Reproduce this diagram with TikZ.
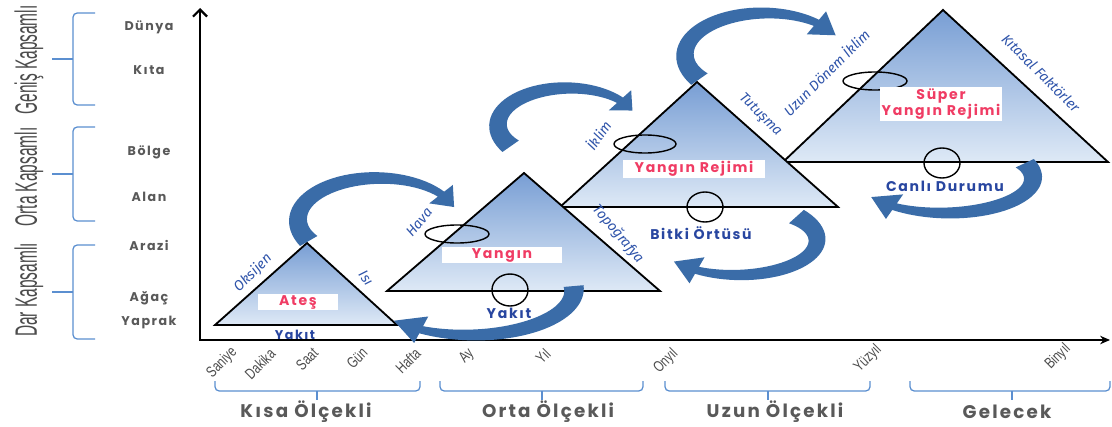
\documentclass[tikz,border=0pt]{standalone}
\usepackage{fontspec}
\setmainfont{Poppins}
\newfontfamily\gothic[LetterSpace=12]{Poppins}
\newfontfamily\narrowfont[FakeStretch=0.5]{Liberation Sans}
\newfontfamily\tickfont[FakeStretch=0.75]{Liberation Sans}
\newfontfamily\handfont{Fira Sans}
\usetikzlibrary{arrows.meta, positioning, calc}

\definecolor{txtgray}{RGB}{89,89,89}
\definecolor{brkblue}{RGB}{91,143,208}
\definecolor{lblblue}{RGB}{47,84,170}
\definecolor{navy}{RGB}{40,70,160}
\definecolor{pinkred}{RGB}{240,60,100}
\definecolor{bandblue}{RGB}{58,108,168}
\definecolor{triTop}{RGB}{120,158,212}
\definecolor{triBot}{RGB}{222,233,246}

% curved block arrow: cx, cy, rx, ry, tail angle, neck angle, tip angle
\newcommand{\swoosh}[7]{%
  \fill[arrowband]
    plot[domain=#5:#6, samples=40] ({#1+(#3+10-6*(\x-(#5))/((#6)-(#5)))*cos(\x)}, {#2+(#4+10-6*(\x-(#5))/((#6)-(#5)))*sin(\x)})
    -- ({#1+(#3+15)*cos(#6)}, {#2+(#4+15)*sin(#6)})
    -- ({#1+#3*cos(#7)}, {#2+#4*sin(#7)})
    -- ({#1+(#3-15)*cos(#6)}, {#2+(#4-15)*sin(#6)})
    -- plot[domain=#6:#5, samples=40] ({#1+(#3-10+6*(\x-(#5))/((#6)-(#5)))*cos(\x)}, {#2+(#4-10+6*(\x-(#5))/((#6)-(#5)))*sin(\x)})
    -- cycle;}

\begin{document}
\begin{tikzpicture}[
        x=0.025cm, y=-0.025cm,
        axis/.style={line width=1.6pt, {Straight Barb[length=5pt, width=10pt]}-{Stealth[length=7pt, width=6pt]}},
        brk/.style={draw=brkblue, line width=0.9pt, rounded corners=3pt},
        tri/.style={draw=black, line width=1.3pt, top color=triTop, bottom color=triBot},
        ring/.style={draw=black, line width=1pt},
        arrowband/.style={fill=bandblue},
        scalelabel/.style={text=txtgray, font=\gothic\bfseries\fontsize{9}{10}\selectfont},
        side/.style={text=txtgray!85!black, font=\narrowfont\fontsize{22}{24}\selectfont, rotate=90},
        tick/.style={text=txtgray!85!black, font=\tickfont\fontsize{11}{12}\selectfont, rotate=45},
        group/.style={text=txtgray, font=\gothic\bfseries\fontsize{13}{15}\selectfont},
        factor/.style={text=lblblue, font=\handfont\itshape\fontsize{10}{12}\selectfont},
        base/.style={text=navy, font=\gothic\bfseries\fontsize{10}{12}\selectfont},
        title/.style={fill=white, text=pinkred, font=\gothic\bfseries\fontsize{10}{12}\selectfont, inner sep=1pt}
    ]
        \path[use as bounding box, fill=white] (0,0) rectangle (1112,427);

        % Axes
        \coordinate (origin) at (200,340);
        \coordinate (ytop) at (200,8);
        \coordinate (xend) at (1110,340);
        \draw[axis] (ytop) -- (origin) -- (xend);

        % Spatial scale
        \node[side] (genis) at (29,60) {Geniş Kapsamlı};
        \node[side] (ortak) at (29,177) {Orta Kapsamlı};
        \node[side] (dark) at (29,290) {Dar Kapsamlı};
        \draw[brk] (95,13) -- (73,13) -- (73,105) -- (95,105);
        \draw[brk] (73,59) -- (52,59);
        \draw[brk] (95,127) -- (73,127) -- (73,221) -- (95,221);
        \draw[brk] (73,174) -- (52,174);
        \draw[brk] (95,245) -- (73,245) -- (73,339) -- (95,339);
        \draw[brk] (73,292) -- (52,292);

        \node[scalelabel] (dunya) at (149,27) {Dünya};
        \node[scalelabel] (kita) at (149,70) {Kıta};
        \node[scalelabel] (bolge) at (149,152) {Bölge};
        \node[scalelabel] (alan) at (149,197) {Alan};
        \node[scalelabel] (arazi) at (149,245) {Arazi};
        \node[scalelabel] (agac) at (149,298) {Ağaç};
        \node[scalelabel] (yaprak) at (149,322) {Yaprak};

        % Time scale
        \node[tick] (saniye) at (222,363) {Saniye};
        \node[tick] (dakika) at (260,364) {Dakika};
        \node[tick] (saat) at (307,359) {Saat};
        \node[tick] (gun) at (357,358) {Gün};
        \node[tick] (hafta) at (408,361) {Hafta};
        \node[tick] (ay) at (467,356) {Ay};
        \node[tick] (yil) at (543,356) {Yıl};
        \node[tick] (onyil) at (666,361) {Onyıl};
        \node[tick] (yuzyil) at (868,359) {Yüzyıl};
        \node[tick] (binyil) at (1058,357) {Binyıl};

        \draw[brk] (215,381) -- (215,391) -- (420,391) -- (420,381);
        \draw[brk] (317,391) -- (317,400);
        \draw[brk] (440,381) -- (440,391) -- (643,391) -- (643,381);
        \draw[brk] (542,391) -- (542,400);
        \draw[brk] (665,381) -- (665,391) -- (870,391) -- (870,381);
        \draw[brk] (768,391) -- (768,400);
        \draw[brk] (910,381) -- (910,391) -- (1110,391) -- (1110,381);
        \draw[brk] (1012,391) -- (1012,400);

        \node[group] (kisa) at (306,412) {Kısa Ölçekli};
        \node[group] (orta) at (548,412) {Orta Ölçekli};
        \node[group] (uzun) at (775,412) {Uzun Ölçekli};
        \node[group] (gelecek) at (1007,412) {Gelecek};

        % Triangles
        \coordinate (t1l) at (215,325); \coordinate (t1a) at (307,243); \coordinate (t1r) at (397,325);
        \coordinate (t2l) at (387,291); \coordinate (t2a) at (524,173); \coordinate (t2r) at (660,291);
        \coordinate (t3l) at (560,207); \coordinate (t3a) at (697,82);  \coordinate (t3r) at (838,207);
        \coordinate (t4l) at (783,162); \coordinate (t4a) at (943,10);  \coordinate (t4r) at (1108,162);
        \shadedraw[tri] (t4l) -- (t4a) -- (t4r) -- cycle;
        \shadedraw[tri] (t3l) -- (t3a) -- (t3r) -- cycle;
        \shadedraw[tri] (t2l) -- (t2a) -- (t2r) -- cycle;
        \shadedraw[tri] (t1l) -- (t1a) -- (t1r) -- cycle;

        % Rings
        \draw[ring] (457,234) ellipse [x radius=32, y radius=9];
        \draw[ring] (510,290) ellipse [x radius=18, y radius=16];
        \draw[ring] (645,144) ellipse [x radius=31, y radius=9];
        \draw[ring] (705,207) ellipse [x radius=18, y radius=15];
        \draw[ring] (875,81) ellipse [x radius=32, y radius=9];
        \draw[ring] (942,163) ellipse [x radius=18, y radius=15];

        % Titles
        \node[title, minimum width=57pt] (ates) at (298,302) {Ateş};
        \node[title, minimum width=85pt] (yangin) at (502,255) {Yangın};
        \node[title, minimum width=101pt] (rejim) at (694,169) {Yangın Rejimi};
        \node[title, align=center] (super) at (941,104) {Süper\\Yangın Rejimi};

        % Factors
        \node[factor, rotate=45] (oksijen) at (253,273) {Oksijen};
        \node[factor, rotate=-55] (isi) at (366,278) {Isı};
        \node[factor, rotate=50] (hava) at (419,222) {Hava};
        \node[factor, rotate=-50] (topo) at (618,234) {Topoğrafya};
        \node[factor, rotate=55] (iklim) at (598,135) {İklim};
        \node[factor, rotate=-45] (tutusma) at (760,115) {Tutuşma};
        \node[factor, rotate=45] (uzunik) at (826,72) {Uzun Dönem İklim};
        \node[factor, rotate=-45] (kitasal) at (1041,73) {Kıtasal Faktörler};

        \node[base, font=\gothic\bfseries\fontsize{9}{10}\selectfont] (yakit1) at (295,335) {Yakıt};
        \node[base] (yakit2) at (509,313) {Yakıt};
        \node[base] (bitki) at (701,233) {Bitki Örtüsü};
        \node[base] (canli) at (945,186) {Canlı Durumu};

        % Curved arrows
        \swoosh{378}{220}{80}{42}{150}{322}{342}
        \swoosh{568}{125}{70}{37}{145}{318}{337}
        \swoosh{765}{55}{80}{42}{145}{310}{332}
        \swoosh{470}{290}{104}{45}{-5}{118}{137}
        \swoosh{737}{240}{80}{35}{-42}{120}{142}
        \swoosh{945}{178}{88}{35}{-25}{125}{147}
    \end{tikzpicture}
\end{document}
